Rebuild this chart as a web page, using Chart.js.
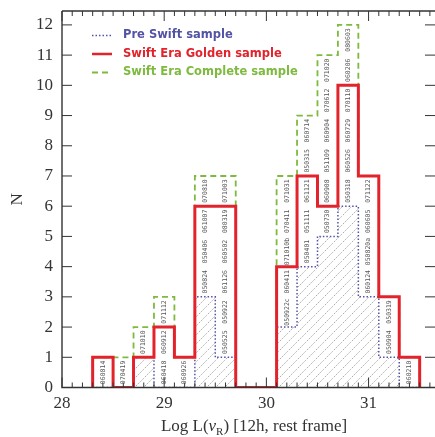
<!DOCTYPE html>
<html><head><meta charset="utf-8">
<script src="https://cdn.jsdelivr.net/npm/chart.js@4.4.1/dist/chart.umd.min.js"></script>
<style>html,body{margin:0;padding:0;background:#fff;overflow:hidden}</style>
</head><body>
<canvas id="c" width="435" height="437"></canvas>
<script>
// ---- data ----
const binEdges = [28.3,28.5,28.7,28.9,29.1,29.3,29.5,29.7,29.9,30.1,30.3,30.5,30.7,30.9,31.1,31.3,31.5];
const preSwift = [0,0,1,0,0,3,1,0,0,2,4,5,6,3,1,0];
const golden   = [1,0,1,2,1,6,6,0,0,4,7,6,10,7,3,1];
const complete = [1,1,2,3,1,7,7,0,0,7,9,11,12,7,3,1];
const grbNames = [
  ["060814"],
  ["070419"],
  ["071010"],
  ["060418","060912","071112"],
  ["060926"],
  ["050824","050406","061007","070810"],
  ["050525","050922","061126","060502","080319","071003"],
  [],
  [],
  ["050922c","060411","071010b","070411","071031"],
  ["050401","051111","061121","050315","060714"],
  ["050730","060908","051109","060904","070612","071020"],
  ["050318","060526","060729","070110","060206","080603"],
  ["060124","050820a","060605","071122"],
  ["050904","050319"],
  ["060210"]
];
const xTickValues = [28,29,30,31];
const yTickValues = [0,1,2,3,4,5,6,7,8,9,10,11,12];
const seriesNames = ["Pre Swift sample","Swift Era Golden sample","Swift Era Complete sample"];
const xTitleParts = ["Log L(", "\u03bd", "R", ") [12h, rest frame]"];
const yTitle = "N";

// ---- styles ----
const RED = "#e3232b", GREEN = "#7dba3e", BLUE = "#5353a6";
const AXIS = "#333";
const SERIF = "'Liberation Serif', 'DejaVu Serif', serif";

function steps(vals){
  const pts = [{x: binEdges[0], y: 0}];
  vals.forEach((v,i) => pts.push({x: binEdges[i], y: v}));
  pts.push({x: binEdges[vals.length], y: 0});
  return pts;
}

function hatch(){
  const s = 9, c = document.createElement('canvas');
  c.width = s; c.height = s;
  const g = c.getContext('2d');
  g.strokeStyle = '#8a8a8a'; g.lineWidth = 0.8;
  g.setLineDash([1.6,1.4]);
  g.beginPath();
  g.moveTo(-1, s+1); g.lineTo(s+1, -1);
  g.moveTo(-1, 1); g.lineTo(1, -1);
  g.moveTo(s-1, s+1); g.lineTo(s+1, s-1);
  g.stroke();
  return c.getContext('2d').createPattern(c, 'repeat');
}

const framePlugin = {
  id: 'frame',
  afterDatasetsDraw(chart){
    const {ctx, chartArea: a, scales:{x, y}} = chart;
    ctx.save();
    ctx.strokeStyle = AXIS; ctx.lineWidth = 1.4;
    ctx.beginPath();
    ctx.moveTo(a.left, a.top); ctx.lineTo(a.left, a.bottom); ctx.lineTo(a.right, a.bottom);
    ctx.moveTo(a.left, a.top); ctx.lineTo(a.right, a.top);
    ctx.stroke();
    ctx.lineWidth = 1;
    ctx.beginPath();
    for (let k = 0; k <= 40; k++){
      const v = x.min + k*0.1;
      if (v > x.max + 1e-9) break;
      const px = x.getPixelForValue(v);
      const len = (k % 10 === 0) ? 10 : 5;
      ctx.moveTo(px, a.bottom); ctx.lineTo(px, a.bottom - len);
      ctx.moveTo(px, a.top); ctx.lineTo(px, a.top + len);
    }
    yTickValues.forEach(v => {
      const py = y.getPixelForValue(v);
      ctx.moveTo(a.left, py); ctx.lineTo(a.left + 10, py);
      ctx.moveTo(a.right, py); ctx.lineTo(a.right - 10, py);
    });
    ctx.stroke();
    ctx.restore();
  }
};

const namesPlugin = {
  id: 'names',
  afterDatasetsDraw(chart){
    const {ctx, scales:{x, y}} = chart;
    ctx.save();
    ctx.fillStyle = '#555';
    ctx.font = "6.5px 'DejaVu Sans Mono', monospace";
    ctx.textAlign = 'center'; ctx.textBaseline = 'middle';
    grbNames.forEach((list, i) => {
      const cx = x.getPixelForValue((binEdges[i] + binEdges[i+1]) / 2);
      list.forEach((name, k) => {
        const cy = y.getPixelForValue(preSwift[i] + k + 0.5);
        ctx.save();
        ctx.translate(cx, cy);
        ctx.rotate(-Math.PI/2);
        ctx.fillText(name, 0, 0);
        ctx.restore();
      });
    });
    ctx.restore();
  }
};

const textPlugin = {
  id: 'texts',
  afterDraw(chart){
    const {ctx, chartArea: a} = chart;
    ctx.save();
    // legend
    const rows = [
      {c: BLUE, dash: [1.5, 2], w: 1.5},
      {c: RED, dash: [], w: 2.5},
      {c: GREEN, dash: [6, 4], w: 1.8}
    ];
    rows.forEach((r, i) => {
      const yy = 35.5 + i*18.5;
      ctx.strokeStyle = r.c; ctx.lineWidth = r.w; ctx.setLineDash(r.dash);
      ctx.beginPath(); ctx.moveTo(92, yy); ctx.lineTo(112, yy); ctx.stroke();
      ctx.setLineDash([]);
      ctx.fillStyle = r.c;
      ctx.font = "bold 11.5px 'DejaVu Sans', sans-serif";
      ctx.textAlign = 'left'; ctx.textBaseline = 'middle';
      ctx.fillText(seriesNames[i], 123, yy);
    });
    // x title with subscript
    ctx.fillStyle = AXIS;
    ctx.textBaseline = 'alphabetic'; ctx.textAlign = 'left';
    const fMain = "17px " + SERIF, fIt = "italic 17px " + SERIF, fSub = "11px " + SERIF;
    const w0 = (ctx.font = fMain, ctx.measureText(xTitleParts[0]).width);
    const w1 = (ctx.font = fIt, ctx.measureText(xTitleParts[1]).width);
    const w2 = (ctx.font = fSub, ctx.measureText(xTitleParts[2]).width);
    const w3 = (ctx.font = fMain, ctx.measureText(xTitleParts[3]).width);
    let xx = 254 - (w0 + w1 + w2 + w3) / 2;
    const base = 431;
    ctx.font = fMain; ctx.fillText(xTitleParts[0], xx, base); xx += w0;
    ctx.font = fIt; ctx.fillText(xTitleParts[1], xx, base); xx += w1;
    ctx.font = fSub; ctx.fillText(xTitleParts[2], xx, base + 4); xx += w2;
    ctx.font = fMain; ctx.fillText(xTitleParts[3], xx, base);
    // y title
    ctx.save();
    ctx.translate(18, (a.top + a.bottom) / 2);
    ctx.rotate(-Math.PI/2);
    ctx.textAlign = 'center'; ctx.textBaseline = 'middle';
    ctx.font = "17px " + SERIF;
    ctx.fillText(yTitle, 0, 0);
    ctx.restore();
    ctx.restore();
  }
};

new Chart(document.getElementById('c'), {
  type: 'line',
  data: {
    datasets: [
      {label: seriesNames[1], data: steps(golden), stepped: 'before', borderColor: RED, borderWidth: 3, pointRadius: 0, fill: false, order: 0},
      {label: seriesNames[0], data: steps(preSwift), stepped: 'before', borderColor: BLUE, borderWidth: 1.5, borderDash: [1.5, 2], pointRadius: 0, fill: 'origin', backgroundColor: hatch(), order: 1},
      {label: seriesNames[2], data: steps(complete), stepped: 'before', borderColor: GREEN, borderWidth: 1.8, borderDash: [6, 4], pointRadius: 0, fill: false, order: 2}
    ]
  },
  options: {
    responsive: false, animation: false,
    layout: {padding: {top: 11, right: 0, left: 0, bottom: 0}},
    plugins: {legend: {display: false}, tooltip: {enabled: false}},
    scales: {
      x: {
        type: 'linear', min: 28, max: 31.65,
        grid: {display: false, drawTicks: false}, border: {display: false},
        afterBuildTicks: s => { s.ticks = xTickValues.map(v => ({value: v})); },
        ticks: {padding: 6, color: AXIS, font: {family: SERIF, size: 17}, maxRotation: 0, autoSkip: false},
        afterFit: s => { s.height = 49.5; s.paddingLeft = 0; s.paddingRight = 0; }
      },
      y: {
        min: 0, max: 12.46,
        grid: {display: false, drawTicks: false}, border: {display: false},
        afterBuildTicks: s => { s.ticks = yTickValues.map(v => ({value: v})); },
        ticks: {padding: 9, color: AXIS, font: {family: SERIF, size: 17}, autoSkip: false},
        afterFit: s => { s.width = 62; s.paddingTop = 0; s.paddingBottom = 0; }
      }
    }
  },
  plugins: [framePlugin, namesPlugin, textPlugin]
});
</script>
</body></html>
